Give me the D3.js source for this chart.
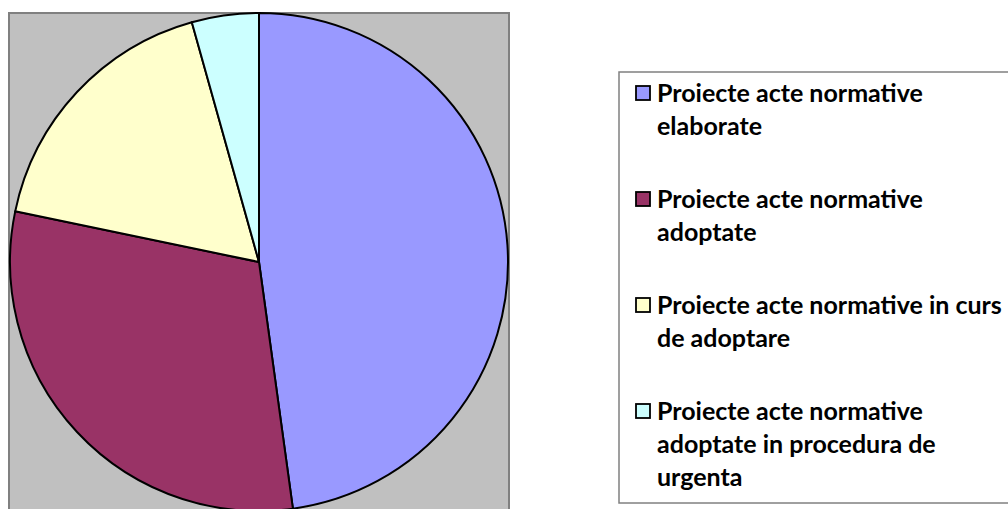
<!DOCTYPE html>
<html>
<head>
<meta charset="utf-8">
<script src="https://cdn.jsdelivr.net/npm/d3@7"></script>
<style>
  html, body { margin: 0; padding: 0; background: #ffffff; }
  svg { display: block; }
</style>
</head>
<body>
<svg id="chart" width="1008" height="509"></svg>
<script>
// Categories and counts of normative act drafts
const categories = [
  "Proiecte acte normative elaborate",
  "Proiecte acte normative adoptate",
  "Proiecte acte normative in curs de adoptare",
  "Proiecte acte normative adoptate in procedura de urgenta"
];
const values = [22, 14, 8, 2];
const colors = ["#9999FF", "#993366", "#FFFFCC", "#CCFFFF"];
// Legend text broken into lines as laid out in the legend box
const legendLines = [
  ["Proiecte acte normative", "elaborate"],
  ["Proiecte acte normative", "adoptate"],
  ["Proiecte acte normative in curs", "de adoptare"],
  ["Proiecte acte normative", "adoptate in procedura de", "urgenta"]
];

const svg = d3.select("#chart");

// Plot area (grey panel)
const plot = { x: 9, y: 13, w: 500, h: 510 };
svg.append("rect")
  .attr("x", plot.x).attr("y", plot.y)
  .attr("width", plot.w).attr("height", plot.h)
  .attr("fill", "#C0C0C0")
  .attr("stroke", "#808080")
  .attr("stroke-width", 2);

// Pie
const cx = 259, cy = 262, r = 249;
const pie = d3.pie().sort(null).value(d => d.value);
const arc = d3.arc().innerRadius(0).outerRadius(r);
const data = categories.map((c, i) => ({ name: c, value: values[i], color: colors[i] }));

svg.append("g")
  .attr("transform", `translate(${cx},${cy})`)
  .selectAll("path")
  .data(pie(data))
  .join("path")
  .attr("d", arc)
  .attr("fill", d => d.data.color)
  .attr("stroke", "#000000")
  .attr("stroke-width", 2)
  .attr("stroke-linejoin", "round");

// Legend
const legend = { x: 619, y: 72, w: 400, h: 431 };
svg.append("rect")
  .attr("x", legend.x).attr("y", legend.y)
  .attr("width", legend.w).attr("height", legend.h)
  .attr("fill", "#ffffff")
  .attr("stroke", "#808080")
  .attr("stroke-width", 1.5);

const itemY = d3.scalePoint().domain(d3.range(categories.length)).range([102, 420]);
const lineStep = 33;

const items = svg.append("g")
  .selectAll("g")
  .data(data)
  .join("g")
  .attr("transform", (d, i) => `translate(0,${itemY(i)})`);

items.append("rect")
  .attr("x", 636).attr("y", -16)
  .attr("width", 14).attr("height", 14)
  .attr("fill", d => d.color)
  .attr("stroke", "#000000")
  .attr("stroke-width", 1.8);

items.append("text")
  .attr("font-family", "Lato, 'Open Sans', sans-serif")
  .attr("font-weight", 700)
  .attr("font-size", 25)
  .attr("fill", "#000000")
  .selectAll("tspan")
  .data((d, i) => legendLines[i])
  .join("tspan")
  .attr("x", 657)
  .attr("y", (t, j) => j * lineStep)
  .text(t => t);
</script>
</body>
</html>
